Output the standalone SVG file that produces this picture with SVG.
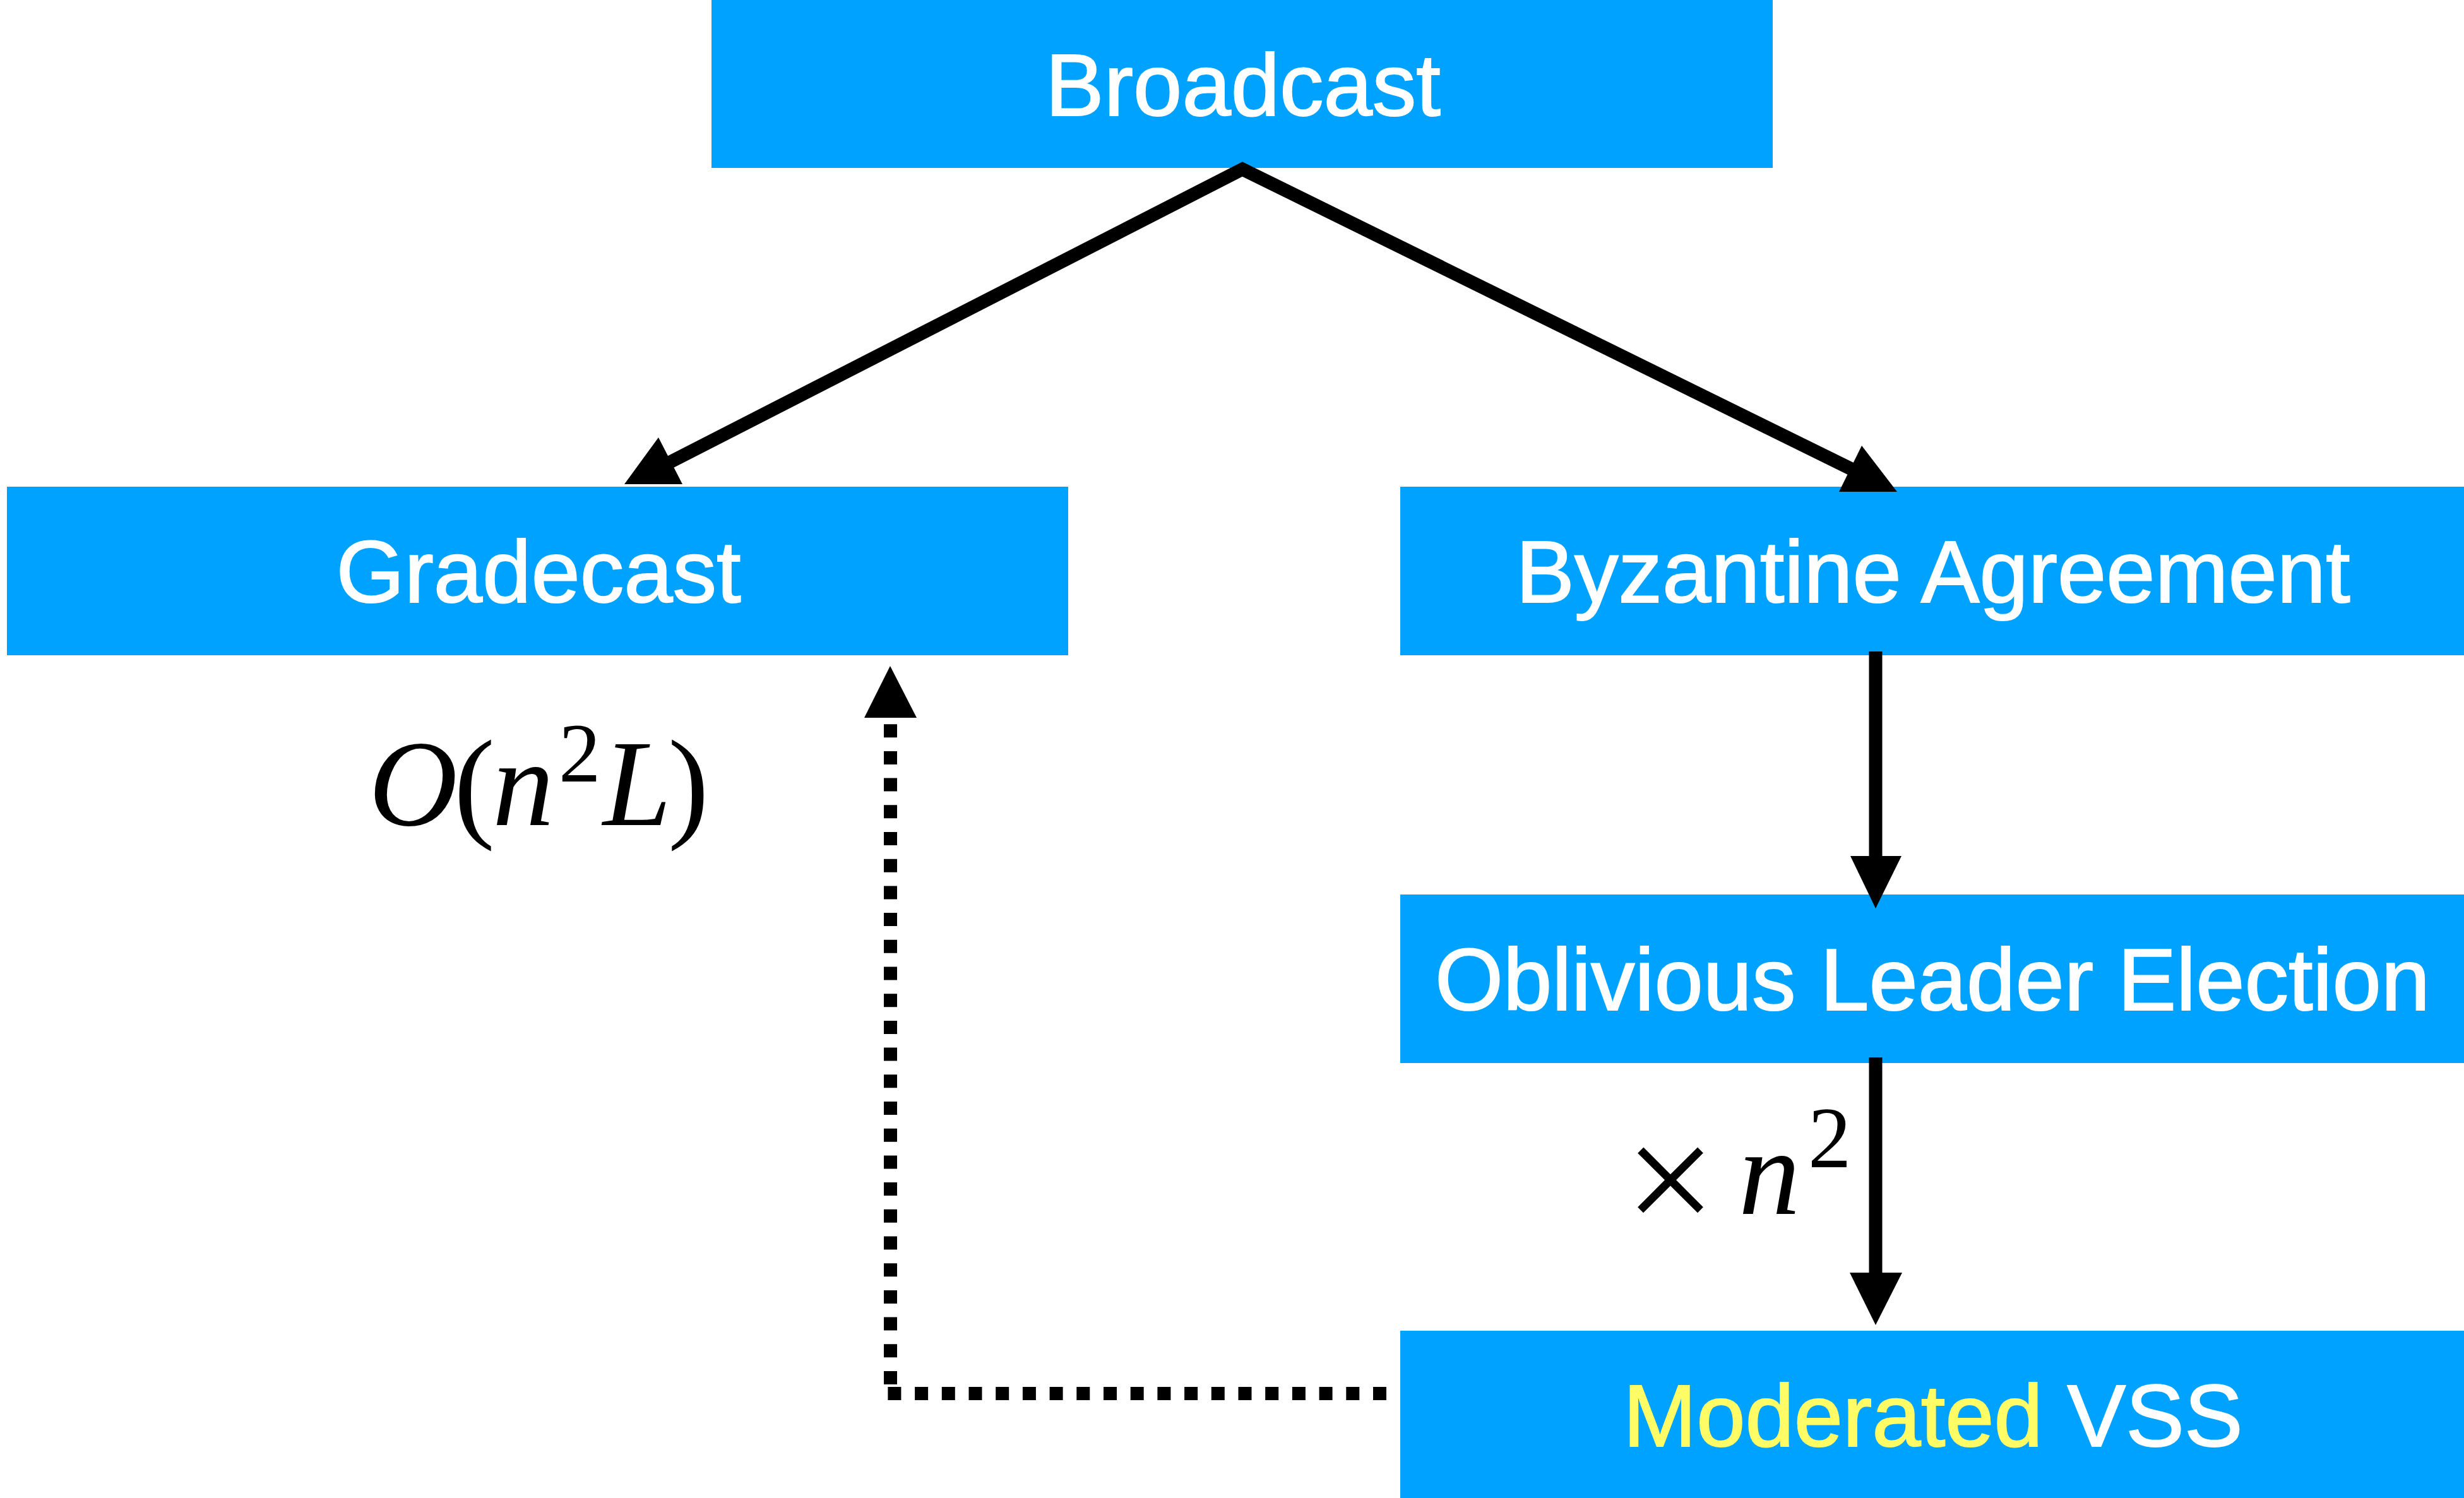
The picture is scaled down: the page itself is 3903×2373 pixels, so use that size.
<svg xmlns="http://www.w3.org/2000/svg" width="3903" height="2373" viewBox="0 0 3903 2373">
  <style>
    .box { fill: #00A2FF; }
    .label { font-family: "Liberation Sans", Arial, Helvetica, sans-serif; font-size: 139px; fill: #FFFFFF; stroke: #FFFFFF; stroke-width: 2; text-anchor: middle; }
    .hl { fill: #FFFC66; stroke: #FFFC66; }
    .math { font-family: "Liberation Serif", "Times New Roman", serif; fill: #000000; }
    .it { font-style: italic; }
    .edge { fill: none; stroke: #000000; stroke-width: 21; stroke-linejoin: miter; stroke-miterlimit: 10; }
    .dots { fill: none; stroke: #000000; stroke-width: 21; stroke-dasharray: 21 21.7; }
    .head { fill: #000000; }
  </style>

  <!-- nodes -->
  <g id="broadcast">
    <rect class="box" x="1127" y="0" width="1681" height="266"/>
    <text class="label" x="1969" y="183">Broadcast</text>
  </g>
  <g id="gradecast">
    <rect class="box" x="11" y="771" width="1681" height="267"/>
    <text class="label" x="853" y="954">Gradecast</text>
  </g>
  <g id="byzantine-agreement">
    <rect class="box" x="2218" y="771" width="1685" height="267"/>
    <text class="label" x="3062" y="954">Byzantine Agreement</text>
  </g>
  <g id="oblivious-leader-election">
    <rect class="box" x="2218" y="1417" width="1685" height="267"/>
    <text class="label" x="3061" y="1600">Oblivious Leader Election</text>
  </g>
  <g id="moderated-vss">
    <rect class="box" x="2218" y="2108" width="1685" height="265"/>
    <text class="label" x="3062" y="2291"><tspan class="hl">Moderated</tspan> VSS</text>
  </g>

  <!-- connectors -->
  <g id="connectors">
    <!-- Broadcast fans out to Gradecast and Byzantine Agreement -->
    <path class="edge" d="M1040,743 L1968,268 L2955,754"/>
    <polygon class="head" points="1043,693 1081,767 989,767"/>
    <polygon class="head" points="2949,706 3005,779 2913,779"/>

    <!-- Byzantine Agreement -> Oblivious Leader Election -->
    <path class="edge" d="M2971,1032 L2971,1390"/>
    <polygon class="head" points="2931,1356 3012,1356 2971,1439"/>

    <!-- Oblivious Leader Election -> Moderated VSS -->
    <path class="edge" d="M2971,1675 L2971,2040"/>
    <polygon class="head" points="2930,2016 3013,2016 2971,2099"/>

    <!-- Moderated VSS back to Gradecast (dotted) -->
    <path class="dots" d="M2196,2207.5 L1405,2207.5"/>
    <path class="dots" d="M1410.5,2193 L1410.5,1140"/>
    <polygon class="head" points="1410,1055 1452,1137 1369,1137"/>
  </g>

  <!-- cost annotations -->
  <g id="gradecast-cost" class="math">
    <text x="584" y="1307" font-size="195" class="it">O</text>
    <text x="719" y="1307" font-size="195">(</text>
    <text x="780" y="1307" font-size="195" class="it">n</text>
    <text x="885" y="1238" font-size="133">2</text>
    <text x="955" y="1307" font-size="195" class="it">L</text>
    <text x="1058" y="1307" font-size="195">)</text>
  </g>
  <g id="election-factor" class="math">
    <text x="2574" y="1954" font-size="255">×</text>
    <text x="2754" y="1923" font-size="195" class="it">n</text>
    <text x="2864" y="1849" font-size="137">2</text>
  </g>
</svg>
